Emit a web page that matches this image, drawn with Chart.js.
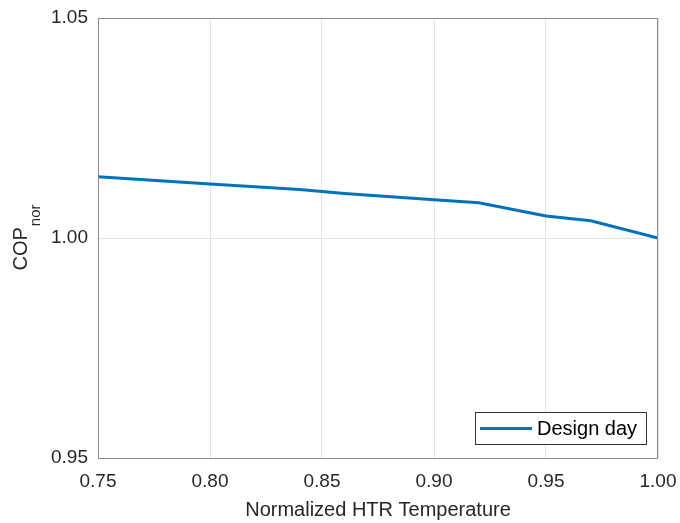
<!DOCTYPE html>
<html>
<head>
<meta charset="utf-8">
<script src="https://cdn.jsdelivr.net/npm/chart.js@4"></script>
<style>
  body { margin: 0; background: #fff; }
  #wrap { width: 680px; height: 523px; }
</style>
</head>
<body>
<div id="wrap"><canvas id="myChart"></canvas></div>
<script>
// data
const temps = [0.75, 0.80, 0.84, 0.86, 0.90, 0.92, 0.95, 0.97, 1.00]
const copNor = [1.0139, 1.0123, 1.0110, 1.0101, 1.0087, 1.0080, 1.0050, 1.0039, 1.0000]
const xTicks = [0.75, 0.80, 0.85, 0.90, 0.95, 1.00]
const yTicks = [0.95, 1.00, 1.05]

const seriesName = 'Design day'
const xTitle = 'Normalized HTR Temperature'

const points = temps.map((t, i) => ({ x: t, y: copNor[i] }))
const fontFamily = '"Liberation Sans", Arial, Helvetica, sans-serif'

// axes titles, box and legend drawn like matlab
const matlabLook = {
    id: 'matlabLook',
    afterDraw(chart) {
        const ctx = chart.ctx
        const a = chart.chartArea
        ctx.save()

        // box round the plot
        ctx.strokeStyle = '#8c8c8c'
        ctx.lineWidth = 1
        ctx.strokeRect(Math.round(a.left) + 0.5, Math.round(a.top) + 0.5,
            Math.round(a.right - a.left) - 1, Math.round(a.bottom - a.top))

        // x title
        ctx.fillStyle = '#262626'
        ctx.font = '20px ' + fontFamily
        ctx.textAlign = 'center'
        ctx.textBaseline = 'middle'
        ctx.fillText(xTitle, (a.left + a.right) / 2, 510)

        // y title with subscript
        ctx.translate(27, (a.top + a.bottom) / 2)
        ctx.rotate(-Math.PI / 2)
        ctx.textBaseline = 'alphabetic'
        ctx.font = '20px ' + fontFamily
        const main = 'COP'
        const sub = 'nor'
        const wMain = ctx.measureText(main).width
        ctx.font = '15px ' + fontFamily
        const wSub = ctx.measureText(sub).width
        const start = -(wMain + wSub) / 2
        ctx.textAlign = 'left'
        ctx.font = '20px ' + fontFamily
        ctx.fillText(main, start, 0)
        ctx.font = '15px ' + fontFamily
        ctx.fillText(sub, start + wMain + 1, 13)
        ctx.restore()

        // legend box
        const ds = chart.data.datasets[0]
        ctx.save()
        ctx.fillStyle = '#fff'
        ctx.fillRect(475.5, 412.5, 171, 32)
        ctx.strokeStyle = '#333'
        ctx.lineWidth = 1
        ctx.strokeRect(475.5, 412.5, 171, 32)
        ctx.strokeStyle = ds.borderColor
        ctx.lineWidth = ds.borderWidth
        ctx.beginPath()
        ctx.moveTo(480, 428.5)
        ctx.lineTo(532, 428.5)
        ctx.stroke()
        ctx.fillStyle = '#000'
        ctx.font = '20px ' + fontFamily
        ctx.textAlign = 'left'
        ctx.textBaseline = 'middle'
        ctx.fillText(ds.label, 537, 429)
        ctx.restore()
    }
}

const chart1 = document.getElementById('myChart')
new Chart(chart1, {
    type: 'line',
    data: {
        datasets: [{
            label: seriesName,
            data: points,
            borderColor: '#0072BD',
            borderWidth: 3,
            pointRadius: 0,
            tension: 0,
            fill: false
        }]
    },
    options: {
        responsive: true,
        maintainAspectRatio: false,
        animation: false,
        layout: {
            padding: { left: 0, right: 22, top: 18, bottom: 0 }
        },
        scales: {
            x: {
                type: 'linear',
                min: 0.75,
                max: 1.00,
                afterBuildTicks: axis => { axis.ticks = xTicks.map(v => ({ value: v })) },
                afterFit: axis => {
                    axis.height = 65
                    axis.paddingLeft = 0
                    axis.paddingRight = 0
                },
                ticks: {
                    color: '#262626',
                    font: { family: fontFamily, size: 19 },
                    padding: 12,
                    maxRotation: 0,
                    callback: v => v.toFixed(2)
                },
                grid: { color: '#e3e3e3', drawTicks: false },
                border: { display: false }
            },
            y: {
                min: 0.95,
                max: 1.05,
                afterBuildTicks: axis => { axis.ticks = yTicks.map(v => ({ value: v })) },
                afterFit: axis => {
                    axis.width = 98
                    axis.paddingTop = 0
                    axis.paddingBottom = 0
                },
                ticks: {
                    color: '#262626',
                    font: { family: fontFamily, size: 19 },
                    padding: 10,
                    callback: v => v.toFixed(2)
                },
                grid: { color: '#e3e3e3', drawTicks: false },
                border: { display: false }
            }
        },
        plugins: {
            legend: { display: false },
            tooltip: { enabled: false }
        }
    },
    plugins: [matlabLook]
})
</script>
</body>
</html>
